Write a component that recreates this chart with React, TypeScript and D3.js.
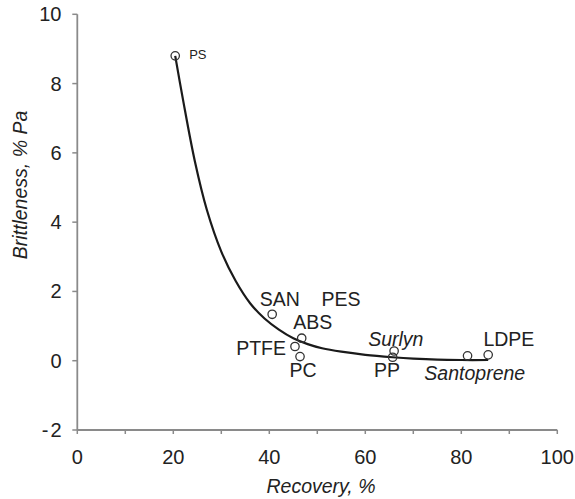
import React from "react";
import * as d3 from "d3";

const materials = ["PS", "SAN", "PES", "ABS", "PTFE", "PC", "Surlyn", "PP", "Santoprene", "LDPE"];
// point values (Recovery %, Brittleness % Pa); PES has a label only
const recovery = [20.4, 40.6, null, 46.75, 45.35, 46.4, 66.0, 65.7, 81.3, 85.6];
const brittleness = [8.8, 1.34, null, 0.65, 0.41, 0.12, 0.28, 0.1, 0.14, 0.17];
// label baseline anchor positions in data units
const labelX = [23.3, 38.0, 50.9, 45.0, 33.1, 44.2, 60.6, 61.8, 72.3, 84.6];
const labelY = [8.71, 1.57, 1.58, 0.91, 0.17, -0.46, 0.43, -0.48, -0.55, 0.43];
const labelItalic = [false, false, false, false, false, false, true, false, true, false];

// trend curve
const curveX = [20.4, 22, 24.5, 27, 30, 33, 36, 39, 42, 45, 48, 51, 55, 60, 65.7, 70, 75, 80, 85.6];
const curveY = [8.8, 7.55, 5.75, 4.35, 3.15, 2.3, 1.66, 1.22, 0.9, 0.65, 0.48, 0.36, 0.26, 0.17, 0.1, 0.06, 0.03, 0.02, 0.02];

const xTicks = [0, 10, 20, 30, 40, 50, 60, 70, 80, 90, 100];
const xTickLabels = [0, 20, 40, 60, 80, 100];
const yTicks = [-2, 0, 2, 4, 6, 8, 10];

const FONT = "'Liberation Sans', Arial, sans-serif";

export default function App() {
  const x = d3.scaleLinear().domain([0, 100]).range([77.3, 557.3]);
  const y = d3.scaleLinear().domain([-2, 10]).range([430, 14.3]);
  const line = d3
    .line<number>()
    .x((_, i) => x(curveX[i]))
    .y((_, i) => y(curveY[i]))
    .curve(d3.curveCatmullRom.alpha(0.5));
  const axisColor = "#8a8a8a";
  const textColor = "#222";

  return (
    <svg
      width={575}
      height={499}
      style={{ position: "absolute", left: 0, top: 0, background: "#fff" }}
      fontFamily={FONT}
    >
      {/* axes */}
      <line x1={x(0)} x2={x(100)} y1={y(-2)} y2={y(-2)} stroke={axisColor} strokeWidth={1.8} />
      <line x1={x(0)} x2={x(0)} y1={y(-2)} y2={y(10)} stroke={axisColor} strokeWidth={1.8} />
      {xTicks.map((t) => (
        <line key={"xt" + t} x1={x(t)} x2={x(t)} y1={y(-2)} y2={y(-2) + 4} stroke={axisColor} strokeWidth={1.5} />
      ))}
      {yTicks.map((t) => (
        <line key={"yt" + t} x1={x(0) - 5} x2={x(0)} y1={y(t)} y2={y(t)} stroke={axisColor} strokeWidth={1.5} />
      ))}
      {xTickLabels.map((t) => (
        <text key={"xl" + t} x={x(t)} y={464} textAnchor="middle" fontSize={20} fill={textColor}>
          {t}
        </text>
      ))}
      {yTicks.map((t) => (
        <text key={"yl" + t} x={61.5} y={y(t)} dy="0.35em" textAnchor="end" fontSize={20} fill={textColor}>
          {t < 0 ? (
            <>
              <tspan>-</tspan>
              <tspan dx={2}>{Math.abs(t)}</tspan>
            </>
          ) : (
            t
          )}
        </text>
      ))}
      <text x={321} y={493} textAnchor="middle" fontSize={19.5} fontStyle="italic" fill={textColor}>
        Recovery, %
      </text>
      <text
        transform={`translate(27,185) rotate(-90)`}
        textAnchor="middle"
        fontSize={19.5}
        fontStyle="italic"
        fill={textColor}
      >
        Brittleness, % Pa
      </text>

      {/* trend curve */}
      <path d={line(curveX) || ""} fill="none" stroke="#1a1a1a" strokeWidth={2.2} />

      {/* points */}
      {materials.map((m, i) =>
        recovery[i] == null ? null : (
          <circle
            key={"p" + m}
            cx={x(recovery[i] as number)}
            cy={y(brittleness[i] as number)}
            r={4.2}
            fill="none"
            stroke="#333"
            strokeWidth={1.3}
          />
        )
      )}

      {/* labels */}
      {materials.map((m, i) => (
        <text
          key={"l" + m}
          x={x(labelX[i])}
          y={y(labelY[i])}
          fontSize={m === "PS" ? 13 : 19.5}
          fontStyle={labelItalic[i] ? "italic" : "normal"}
          fill={textColor}
        >
          {m}
        </text>
      ))}
    </svg>
  );
}
